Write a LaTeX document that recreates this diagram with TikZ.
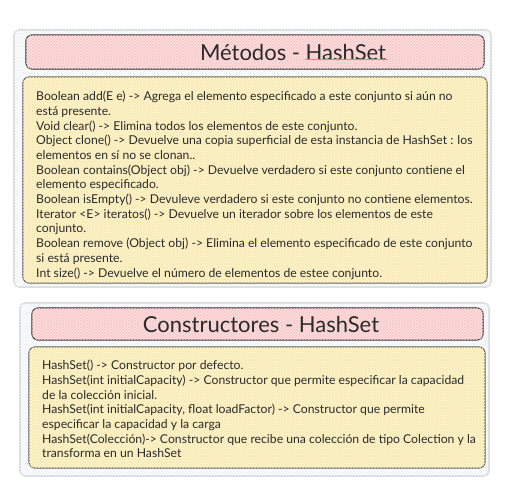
\documentclass[tikz,border=0pt]{standalone}
\usepackage{fontspec}
\setmainfont{Lato}
\usetikzlibrary{patterns}
\definecolor{outerline}{HTML}{DDDDDD}
\definecolor{outerhatch}{HTML}{E6ECF4}
\definecolor{titlefill}{HTML}{FDE7E7}
\definecolor{titlehatch}{HTML}{F9C4C4}
\definecolor{bodyfill}{HTML}{FFF8DC}
\definecolor{bodyhatch}{HTML}{F8E8A8}
\definecolor{darkline}{HTML}{2E2E2E}
\definecolor{grayline}{HTML}{5A5A5A}
\definecolor{txt}{HTML}{2A2A2A}
\definecolor{squiggle}{HTML}{F08080}
\tikzset{
  outerbox/.style={draw=outerline, line width=1.6pt, rounded corners=5pt, fill=white},
  outerpat/.style={pattern=north east lines, pattern color=outerhatch, rounded corners=5pt},
  titlebox/.style={draw=darkline, line width=1.1pt, rounded corners=6pt, fill=titlefill},
  titlepat/.style={pattern=crosshatch, pattern color=titlehatch, rounded corners=6pt},
  bodybox/.style={draw=grayline, line width=1.1pt, rounded corners=6pt, fill=bodyfill},
  bodypat/.style={pattern=crosshatch, pattern color=bodyhatch, rounded corners=6pt},
  titletext/.style={font=\fontsize{22}{26}\selectfont, text=txt, inner sep=0pt},
  bodytext/.style={font=\fontsize{12.2}{14.7}\selectfont, text=txt, align=left, inner sep=0pt, anchor=north west}
}
\begin{document}
\begin{tikzpicture}[x=1pt,y=-1pt]
\useasboundingbox (0,0) rectangle (512,492);
% ---- top panel
\path[outerbox] (14,30) rectangle (491,287);
\path[outerpat] (14,30) rectangle (491,287);
\path[titlebox] (26,35) rectangle (484,69);
\path[titlepat] (26,35) rectangle (484,69);
\path[bodybox] (23,77) rectangle (487,283);
\path[bodypat] (23,77) rectangle (487,283);
\node[titletext] (t1) at (293,52) {Métodos - HashSet};
\draw[squiggle, line width=0.5pt] (305,59) -- (388,59);
\node[bodytext] (b1) at (36,91) {Boolean add(E e) -> Agrega el elemento especificado a este conjunto si aún no\\
está presente.\\
Void clear() -> Elimina todos los elementos de este conjunto.\\
Object clone() -> Devuelve una copia superficial de esta instancia de HashSet : los\\
elementos en sí no se clonan..\\
Boolean contains(Object obj) -> Devuelve verdadero si este conjunto contiene el\\
elemento especificado.\\
Boolean isEmpty() -> Devuleve verdadero si este conjunto no contiene elementos.\\
Iterator <E> iteratos() -> Devuelve un iterador sobre los elementos de este\\
conjunto.\\
Boolean remove (Object obj) -> Elimina el elemento especificado de este conjunto\\
si está presente.\\
Int size() -> Devuelve el número de elementos de estee conjunto.};
% ---- bottom panel
\path[outerbox] (20,303) rectangle (489,476);
\path[outerpat] (20,303) rectangle (489,476);
\path[titlebox] (32,308) rectangle (483,340);
\path[titlepat] (32,308) rectangle (483,340);
\path[bodybox] (29,347) rectangle (485,468);
\path[bodypat] (29,347) rectangle (485,468);
\node[titletext] (t2) at (261,324) {Constructores - HashSet};
\node[bodytext] (b2) at (42,360) {HashSet() -> Constructor por defecto.\\
HashSet(int initialCapacity) -> Constructor que permite especificar la capacidad\\
de la colección inicial.\\
HashSet(int initialCapacity, float loadFactor) -> Constructor que permite\\
especificar la capacidad y la carga\\
HashSet(Colección)-> Constructor que recibe una colección de tipo Colection y la\\
transforma en un HashSet};
\end{tikzpicture}
\end{document}
